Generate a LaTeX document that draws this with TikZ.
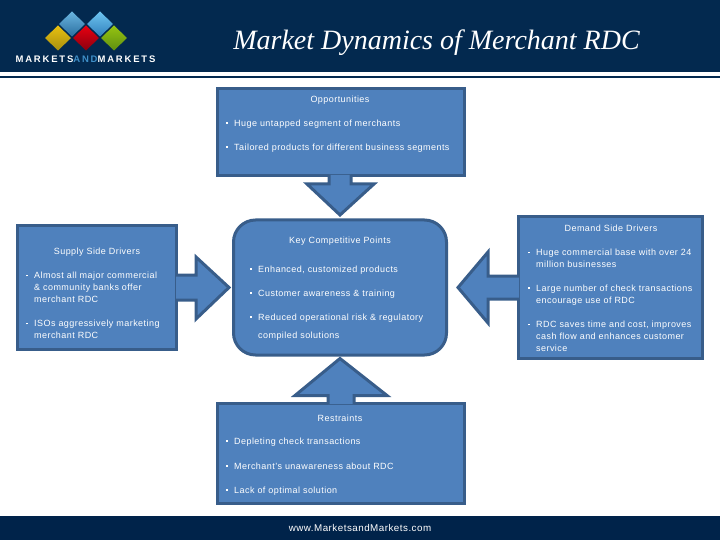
\documentclass[tikz,border=0pt]{standalone}
\usepackage{fontspec}
\setmainfont{Liberation Sans}[LetterSpace=5]
\newfontfamily\titlefont{Liberation Serif}
\newfontfamily\logofont{Liberation Sans}[LetterSpace=19]
\usetikzlibrary{calc}

\definecolor{navy}{HTML}{03294F}
\definecolor{footnavy}{HTML}{00234A}
\definecolor{boxfill}{HTML}{4F81BD}
\definecolor{boxline}{HTML}{385D8A}
\definecolor{logoand}{HTML}{3F8FC8}
\definecolor{blueA}{HTML}{6AB4DF}
\definecolor{blueB}{HTML}{2A6FA0}
\definecolor{skyA}{HTML}{6EC4F0}
\definecolor{skyB}{HTML}{3080BC}
\definecolor{yellowA}{HTML}{E8C010}
\definecolor{yellowB}{HTML}{A8900F}
\definecolor{redA}{HTML}{E80010}
\definecolor{redB}{HTML}{8A0010}
\definecolor{greenA}{HTML}{96C412}
\definecolor{greenB}{HTML}{5F8F10}

\tikzset{
    panel/.style={draw=boxline,fill=boxfill,line width=3pt,inner sep=0pt},
    head/.style={text=white,font=\fontsize{9}{12}\selectfont,yshift=-0.7pt},
    entry/.style={text=white,font=\fontsize{9}{12}\selectfont,anchor=west,align=left,inner sep=0pt,yshift=-0.7pt},
}

\newcommand{\bul}{\llap{\rule[2.5pt]{1.7pt}{1.7pt}\kern6.5pt}}
\newcommand{\blockarrow}[1]{
    \fill[boxfill] #1 -- cycle;
    \draw[boxline,line width=3pt,line join=miter] #1;
}

\begin{document}
\begin{tikzpicture}[x=1pt,y=-1pt]
            \useasboundingbox (0,0) rectangle (720,540);
            \fill[navy] (0,0) rectangle (720,72.5);
            \fill[navy] (0,76) rectangle (720,78.5);
            \fill[footnavy] (0,516) rectangle (720,540);

            \foreach \dx/\dy/\colA/\colB in {72/24/blueA/blueB,100/24/skyA/skyB,58/38/yellowA/yellowB,86/38/redA/redB,114/38/greenA/greenB}{
                \shade[top color=\colA,bottom color=\colB] (\dx-13,\dy) -- (\dx,\dy-12.5) -- (\dx+13,\dy) -- (\dx,\dy+12.5) -- cycle;
            }
            \node[text=white,inner sep=0pt,font=\logofont\bfseries\fontsize{9.5}{11}\selectfont] (logo) at (85.5,59) {MARKETS{\color{logoand}AND}MARKETS};
            \node[text=white,inner sep=0pt,font=\titlefont\itshape\fontsize{28}{32}\selectfont] (title) at (436.5,42.5) {Market Dynamics of Merchant RDC};

            \node[panel,minimum width=247pt,minimum height=87pt] (opp) at (340.5,132) {};
            \node[panel,rounded corners=22pt,minimum width=213pt,minimum height=135pt] (key) at (340,287.5) {};
            \node[panel,minimum width=159pt,minimum height=124pt] (supply) at (97,287.5) {};
            \node[panel,minimum width=184pt,minimum height=142pt] (demand) at (610.5,287.5) {};
            \node[panel,minimum width=247pt,minimum height=100pt] (restr) at (340.5,453.5) {};

            \blockarrow{(329,175) -- (329,184) -- (307,184) -- (340,215) -- (374,184) -- (351,184) -- (351,175)}
            \blockarrow{(176,275) -- (196,275) -- (196,257) -- (229,287.5) -- (196,319) -- (196,300) -- (176,300)}
            \blockarrow{(519,276) -- (488,276) -- (488,252) -- (458,287.5) -- (488,323) -- (488,299) -- (519,299)}
            \blockarrow{(328,404) -- (328,395.5) -- (295,395.5) -- (340,358.5) -- (387,395.5) -- (354,395.5) -- (354,404)}

            \node[head] (opphead) at (340,99) {Opportunities};
            \node[entry] (opp1) at (234,123) {\bul Huge untapped segment of merchants};
            \node[entry] (opp2) at (234,147) {\bul Tailored products for different business segments};

            \node[head] (keyhead) at (340,240) {Key Competitive Points};
            \node[entry] (key1) at (258,269) {\bul Enhanced, customized products};
            \node[entry] (key2) at (258,293) {\bul Customer awareness \& training};
            \node[entry] (key3) at (258,317) {\bul Reduced operational risk \& regulatory};
            \node[entry] (key3b) at (258,335) {compiled solutions};

            \node[head] (supplyhead) at (97,251) {Supply Side Drivers};
            \node[entry] (supply1) at (34,287) {\bul Almost all major commercial\\\& community banks offer\\merchant RDC};
            \node[entry] (supply2) at (34,329) {\bul ISOs aggressively marketing\\merchant RDC};

            \node[head] (demandhead) at (611,228) {Demand Side Drivers};
            \node[entry] (demand1) at (536,258) {\bul Huge commercial base with over 24\\million businesses};
            \node[entry] (demand2) at (536,294) {\bul Large number of check transactions\\encourage use of RDC};
            \node[entry] (demand3) at (536,336) {\bul RDC saves time and cost, improves\\cash flow and enhances customer\\service};

            \node[head] (restrhead) at (340,418) {Restraints};
            \node[entry] (restr1) at (234,441) {\bul Depleting check transactions};
            \node[entry] (restr2) at (234,465.5) {\bul Merchant's unawareness about RDC};
            \node[entry] (restr3) at (234,490) {\bul Lack of optimal solution};

            \node[text=white,inner sep=0pt,font=\fontsize{9.8}{12}\selectfont] (site) at (360,528) {www.MarketsandMarkets.com};
        \end{tikzpicture}
\end{document}
